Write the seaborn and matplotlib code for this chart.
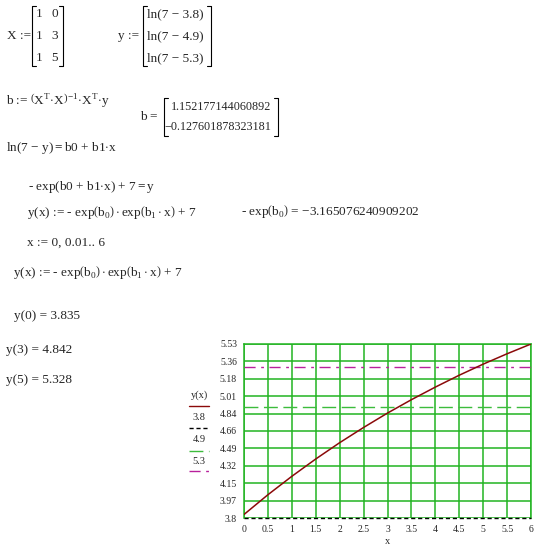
import numpy as np
import pandas as pd
import seaborn as sns
import matplotlib.pyplot as plt
from matplotlib.lines import Line2D

# curve y(x) = -exp(b0)*exp(b1*x) + 7, read at the grid columns
x_pts = [0, 0.5, 1, 1.5, 2, 2.5, 3, 3.5, 4, 4.5, 5, 5.5, 6]
y_pts = [3.835, 4.031, 4.214, 4.386, 4.548, 4.699, 4.842, 4.975, 5.100, 5.218, 5.328, 5.431, 5.528]

# horizontal reference levels
ref_levels = [3.8, 4.9, 5.3]
ref_labels = ['3.8', '4.9', '5.3']

x_ticks = [0, 0.5, 1, 1.5, 2, 2.5, 3, 3.5, 4, 4.5, 5, 5.5, 6]
x_ticklabels = ['0', '0.5', '1', '1.5', '2', '2.5', '3', '3.5', '4', '4.5', '5', '5.5', '6']
y_ticks = [3.8, 3.9728, 4.1456, 4.3184, 4.4912, 4.664, 4.8368, 5.0096, 5.1824, 5.3552, 5.528]
y_ticklabels = ['3.8', '3.97', '4.15', '4.32', '4.49', '4.66', '4.84', '5.01', '5.18', '5.36', '5.53']

b_vals = ['1.152177144060892', '\u22120.127601878323181']

sns.set_style('white')
plt.rcParams['font.family'] = ['Liberation Serif', 'DejaVu Serif']
plt.rcParams['mathtext.fontset'] = 'custom'
plt.rcParams['mathtext.rm'] = 'Liberation Serif'
plt.rcParams['mathtext.it'] = 'Liberation Serif'
plt.rcParams['mathtext.bf'] = 'Liberation Serif:bold'

W, H = 551, 548
fig = plt.figure(figsize=(W / 100, H / 100), dpi=100)

# overlay in pixel coordinates for the worksheet text
bg = fig.add_axes([0, 0, 1, 1])
bg.set_xlim(0, W)
bg.set_ylim(H, 0)
bg.axis('off')

FS = 9.5


def txt(x, y, s, **kw):
    kw.setdefault('fontsize', FS)
    kw.setdefault('va', 'center')
    kw.setdefault('ha', 'left')
    bg.text(x, y, s, **kw)


def bracket(x0, x1, y0, y1, serif=4):
    bg.plot([x0 + serif, x0, x0, x0 + serif], [y0, y0, y1, y1], color='black', lw=0.8)
    bg.plot([x1 - serif, x1, x1, x1 - serif], [y0, y0, y1, y1], color='black', lw=0.8)


# X matrix
txt(7, 36, 'X :=')
bracket(32, 63, 6, 66)
for r, (a, c) in zip([14, 36, 58], [('1', '0'), ('1', '3'), ('1', '5')]):
    txt(39, r, a, ha='center')
    txt(55, r, c, ha='center')

# y vector
txt(118, 36, 'y :=')
bracket(143, 211, 6, 66)
for r, v in zip([14, 36, 58], ['3.8', '4.9', '5.3']):
    txt(147, r, 'ln(7 \u2212 ' + v + ')')

txt(6, 100, r'b := $\left(\mathrm{X}^{\mathrm{T}}\!\cdot\!\mathrm{X}\right)^{-1}\!\cdot\!\mathrm{X}^{\mathrm{T}}\!\cdot\!\mathrm{y}$')

# b result
txt(140, 117, 'b =')
bracket(164, 278, 98, 136)
txt(271, 107, b_vals[0], ha='right', fontsize=8.7)
txt(271, 127, b_vals[1], ha='right', fontsize=8.7)

txt(6, 148, r'ln(7 $-$ y)$\mathbf{=}$b0 + b1$\cdot$x')
txt(28, 187, r'- exp(b0 + b1$\cdot$x) + 7$\mathbf{=}$y')
txt(27, 213, r'y(x) := - exp$\left(\mathrm{b}_0\right)\cdot$exp$\left(\mathrm{b}_1\cdot\mathrm{x}\right)$ + 7')
txt(241, 212, r'- exp$\left(\mathrm{b}_0\right)$ = $-$3.165076240909202')
txt(27, 243, 'x := 0, 0.01.. 6')
txt(13, 273, r'y(x) := - exp$\left(\mathrm{b}_0\right)\cdot$exp$\left(\mathrm{b}_1\cdot\mathrm{x}\right)$ + 7')
txt(14, 316, 'y(0) = 3.835')
txt(6, 350, 'y(3) = 4.842')
txt(6, 380, 'y(5) = 5.328')

# plot styles
grid_c = '#22b422'
curve_c = '#8b0a0a'
ref_styles = [
    dict(color='black', dashes=(3, 2)),
    dict(color='#3cbc3c', dashes=(10, 4)),
    dict(color='#b8209c', dashes=(8, 4, 2, 4)),
]

# legend on the left of the graph
LFS = 7.5
txt(199, 395, 'y(x)', ha='center', fontsize=LFS)
bg.add_line(Line2D([189, 209], [406, 406], color=curve_c, lw=1))
for (ty, ly), lab, st in zip([(418, 428), (440, 451), (461, 471)], ref_labels, ref_styles):
    txt(199, ty, lab, ha='center', fontsize=LFS)
    bg.add_line(Line2D([189, 209], [ly, ly], lw=1, **st))

# the graph
ax = fig.add_axes([244 / W, 1 - 518 / H, 287 / W, 174 / H])
df = pd.DataFrame({'x': x_pts, 'y': y_pts})
sns.lineplot(data=df, x='x', y='y', ax=ax, color=curve_c, lw=1.1, zorder=5)
for lvl, st in zip(ref_levels, ref_styles):
    ax.axhline(lvl, lw=1, clip_on=False, zorder=4, **st)

ax.set_xlim(0, 6)
ax.set_ylim(y_ticks[0], y_ticks[-1])
ax.set_xticks(x_ticks)
ax.set_xticklabels(x_ticklabels)
ax.set_yticks(y_ticks)
ax.set_yticklabels(y_ticklabels)
ax.tick_params(length=0, labelsize=7, pad=5)
ax.grid(True, color=grid_c, lw=1.1)
ax.set_axisbelow(True)
for side in ['left', 'right', 'top']:
    ax.spines[side].set_color(grid_c)
    ax.spines[side].set_linewidth(1.1)
ax.spines['bottom'].set_visible(False)
ax.set_xlabel('x', fontsize=7.5, labelpad=2)
ax.set_ylabel('')

fig.savefig('out.png', dpi=100)
